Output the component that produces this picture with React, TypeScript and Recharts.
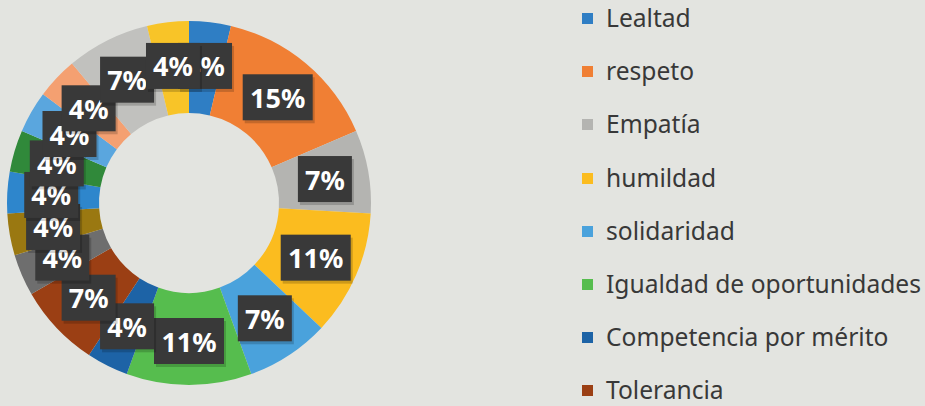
import { PieChart, Pie, Cell } from 'recharts'

// counts per value (out of 27 answers); only the first 8 names are readable in the picture
const categories = [
  'Lealtad',
  'respeto',
  'Empatía',
  'humildad',
  'solidaridad',
  'Igualdad de oportunidades',
  'Competencia por mérito',
  'Tolerancia',
  'Valor 9',
  'Valor 10',
  'Valor 11',
  'Valor 12',
  'Valor 13',
  'Valor 14',
  'Valor 15',
  'Valor 16',
]
const counts = [1, 4, 2, 3, 2, 3, 1, 2, 1, 1, 1, 1, 1, 1, 2, 1]
const colors = [
  '#2f7ec4',
  '#f07f34',
  '#b4b4b1',
  '#fbbc1f',
  '#4aa2dc',
  '#56bd4e',
  '#1d63a6',
  '#9b3f14',
  '#6e6e6e',
  '#9a7811',
  '#2e86cc',
  '#30893a',
  '#5aa6de',
  '#f4a071',
  '#c1c1be',
  '#f8c428',
]
const visibleLegend = 8

const data = categories.map((name, i) => ({ name, value: counts[i] }))

const RADIAN = Math.PI / 180

function renderLabel(props: any) {
  const { cx, cy, midAngle, percent } = props
  const r = 138
  const x = cx + r * Math.cos(-midAngle * RADIAN)
  const y = cy + r * Math.sin(-midAngle * RADIAN)
  const text = `${Math.round(percent * 100)}%`
  const w = text.length > 2 ? 70 : 54
  const h = 46
  return (
    <g>
      <rect x={x - w / 2 + 2} y={y - h / 2 + 3} width={w} height={h} fill="rgba(0,0,0,0.18)" />
      <rect x={x - w / 2} y={y - h / 2} width={w} height={h} fill="#393939" />
      <text
        x={x}
        y={y}
        fill="#ffffff"
        textAnchor="middle"
        dominantBaseline="central"
        style={{ fontFamily: '"Noto Sans", sans-serif', fontSize: 27, fontWeight: 700 }}
      >
        {text}
      </text>
    </g>
  )
}

function LegendList() {
  return (
    <div
      style={{
        position: 'absolute',
        left: 582,
        top: -9,
        width: 343,
        fontFamily: '"Noto Sans", sans-serif',
        fontSize: 24.6,
        color: '#383838',
      }}
    >
      {categories.slice(0, visibleLegend).map((name, i) => (
        <div key={name} style={{ height: 53.2, display: 'flex', alignItems: 'center' }}>
          <span
            style={{
              display: 'inline-block',
              width: 11,
              height: 11,
              background: colors[i],
              marginRight: 13,
              marginTop: 2,
            }}
          />
          <span style={{ whiteSpace: 'nowrap' }}>{name}</span>
        </div>
      ))}
    </div>
  )
}

export default function App() {
  return (
    <div
      style={{
        position: 'absolute',
        left: 0,
        top: 0,
        width: 925,
        height: 406,
        overflow: 'hidden',
        background: '#e3e4e0',
      }}
    >
      <PieChart width={925} height={406} margin={{ top: 0, right: 0, bottom: 0, left: 0 }}>
        <Pie
          data={data}
          dataKey="value"
          nameKey="name"
          cx={189}
          cy={203}
          innerRadius={90}
          outerRadius={182}
          startAngle={90}
          endAngle={-270}
          stroke="none"
          label={renderLabel}
          labelLine={false}
          isAnimationActive={false}
        >
          {data.map((d, i) => (
            <Cell key={d.name} fill={colors[i]} />
          ))}
        </Pie>
      </PieChart>
      <LegendList />
    </div>
  )
}
